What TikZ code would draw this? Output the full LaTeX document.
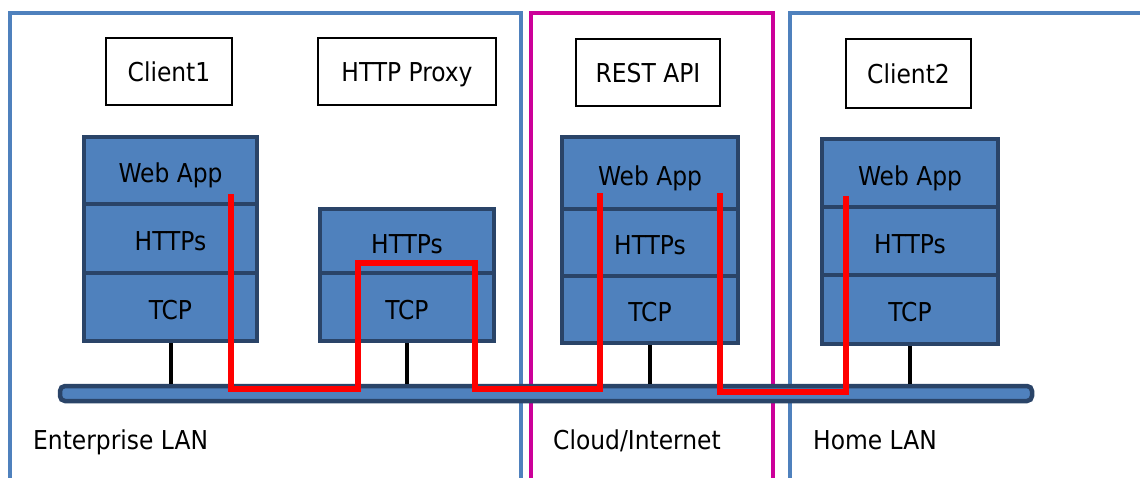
\documentclass[tikz,border=0pt]{standalone}
\usepackage{fontspec}
\setmainfont{DejaVu Sans Condensed}
\definecolor{frameblue}{HTML}{4F81BD}
\definecolor{cloudmag}{HTML}{CC0099}
\definecolor{stackfill}{HTML}{4F81BD}
\definecolor{stackedge}{HTML}{2A4468}
\definecolor{pathred}{HTML}{FF0000}
\tikzset{
  txt/.style={font=\fontsize{26}{30}\selectfont, text height=19pt, text depth=0pt},
  zone/.style={line width=4.5pt},
  title/.style={draw=black, line width=1.5pt, fill=white, inner sep=0pt, txt},
  layer/.style={draw=stackedge, fill=stackfill, line width=4.5pt, inner sep=0pt, txt, text height=24pt},
  stem/.style={draw=black, line width=4pt},
  bus/.style={draw=stackedge, fill=stackfill, line width=4.5pt, rounded corners=5pt, inner sep=0pt},
  route/.style={draw=pathred, line width=6pt, line join=miter},
  zonelabel/.style={anchor=west, inner sep=0pt, txt}
}
\begin{document}
\begin{tikzpicture}[x=1pt,y=-1pt]
\useasboundingbox (0,0) rectangle (1140,477);
\fill[white] (0,0) rectangle (1140,477);
% zones
\draw[zone, draw=frameblue] (10,478) -- (10,13) -- (521,13) -- (521,478);
\draw[zone, draw=cloudmag] (531,478) -- (531,13) -- (773,13) -- (773,478);
\draw[zone, draw=frameblue] (790,478) -- (790,13) -- (1145,13);
% title boxes
\node[title, minimum width=126pt, minimum height=67pt] (t1) at (169,71.5) {Client1};
\node[title, minimum width=178pt, minimum height=67pt] (t2) at (407,71.5) {HTTP Proxy};
\node[title, minimum width=144pt, minimum height=67pt] (t3) at (648,72.5) {REST API};
\node[title, minimum width=125pt, minimum height=69pt] (t4) at (908.5,73.5) {Client2};
% bus
\node[bus, minimum width=972pt, minimum height=15pt] (bus) at (546,393.5) {};
% Client1 stack
\node[layer, minimum width=173pt, minimum height=69pt] (c1https) at (170.5,238.5) {HTTPs};
\node[layer, minimum width=173pt, minimum height=68pt] (c1tcp) at (170.5,307) {TCP};
\node[layer, minimum width=173pt, minimum height=67pt] (c1web) at (170.5,170.5) {Web App};
% Proxy stack
\node[layer, minimum width=174pt, minimum height=68pt] (ptcp) at (407,307) {TCP};
\node[layer, minimum width=174pt, minimum height=64pt] (phttps) at (407,241) {HTTPs};
% REST stack
\node[layer, minimum width=176pt, minimum height=67pt] (rhttps) at (650,242.5) {HTTPs};
\node[layer, minimum width=176pt, minimum height=67pt] (rtcp) at (650,309.5) {TCP};
\node[layer, minimum width=176pt, minimum height=72pt] (rweb) at (650,173) {Web App};
% Client2 stack
\node[layer, minimum width=176pt, minimum height=68pt] (c2https) at (910,241) {HTTPs};
\node[layer, minimum width=176pt, minimum height=69pt] (c2tcp) at (910,309.5) {TCP};
\node[layer, minimum width=176pt, minimum height=68pt] (c2web) at (910,173) {Web App};
% stems
\draw[stem] (c1tcp.south) -- (c1tcp.south |- bus.north);
\draw[stem] (ptcp.south) -- (ptcp.south |- bus.north);
\draw[stem] (rtcp.south) -- (rtcp.south |- bus.north);
\draw[stem] (c2tcp.south) -- (c2tcp.south |- bus.north);
% red route
\coordinate (a0) at (231,194);
\coordinate (a1) at (231,389);
\coordinate (a2) at (358,389);
\coordinate (a3) at (358,263);
\coordinate (a4) at (475,263);
\coordinate (a5) at (475,389);
\coordinate (a6) at (600,389);
\coordinate (a7) at (600,193);
\coordinate (b0) at (720,193);
\coordinate (b1) at (720,392);
\coordinate (b2) at (846,392);
\coordinate (b3) at (846,196);
\draw[route] (a0) -- (a1) -- (a2) -- (a3) -- (a4) -- (a5) -- (a6) -- (a7);
\draw[route] (b0) -- (b1) -- (b2) -- (b3);
% zone labels
\node[zonelabel] (l1) at (33,440) {Enterprise LAN};
\node[zonelabel] (l2) at (553,440) {Cloud/Internet};
\node[zonelabel] (l3) at (813,440) {Home LAN};
\end{tikzpicture}
\end{document}
